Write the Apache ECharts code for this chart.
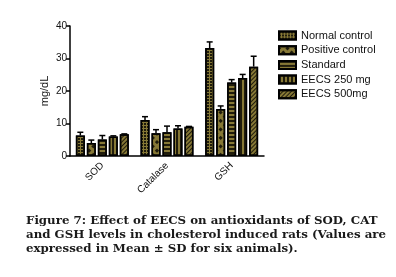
<!DOCTYPE html>
<html><head><meta charset="utf-8">
<script src="https://cdn.jsdelivr.net/npm/echarts@6/dist/echarts.min.js"></script>
<style>html,body{margin:0;padding:0;background:#fff}#c{width:396px;height:277px}</style>
</head><body><div id="c"></div>
<script>
var categories = ['SOD', 'Catalase', 'GSH'];
var seriesNames = ['Normal control', 'Positive control', 'Standard', 'EECS 250 mg', 'EECS 500mg'];
var normalMean = [6.3, 11.1, 33.2];
var normalSd = [1.0, 1.0, 1.9];
var positiveMean = [4.0, 7.0, 14.5];
var positiveSd = [0.9, 1.1, 0.9];
var standardMean = [5.1, 7.3, 22.6];
var standardSd = [1.2, 1.9, 0.9];
var eecs250Mean = [6.0, 8.5, 24.0];
var eecs250Sd = [0.2, 0.8, 1.1];
var eecs500Mean = [6.7, 9.0, 27.5];
var eecs500Sd = [0.1, 0.1, 3.2];
var yTicks = [0, 10, 20, 30, 40];
var captionLines = [
  'Figure 7: Effect of EECS on antioxidants of SOD, CAT',
  'and GSH levels in cholesterol induced rats (Values are',
  'expressed in Mean \u00b1 SD for six animals).'
];

var means = [normalMean, positiveMean, standardMean, eecs250Mean, eecs500Mean];
var sds = [normalSd, positiveSd, standardSd, eecs250Sd, eecs500Sd];

var BAR_W = 9, BAR_PITCH = 11;
var FILL = '#867836', PAT = '#1f1b0b';
var decals = [
  {symbol: 'rect', color: PAT, dashArrayX: [[2, 1]], dashArrayY: [2, 1], symbolSize: 1, rotation: 0},
  {symbol: 'rect', color: PAT, dashArrayX: [[3, 3]], dashArrayY: [3, 3], symbolSize: 1, rotation: Math.PI / 4},
  {symbol: 'rect', color: PAT, dashArrayX: [[1, 0]], dashArrayY: [1.5, 2], symbolSize: 1, rotation: 0},
  {symbol: 'rect', color: PAT, dashArrayX: [[1.5, 2]], dashArrayY: [1, 0], symbolSize: 1, rotation: 0},
  {symbol: 'rect', color: PAT, dashArrayX: [[1, 0]], dashArrayY: [1, 1.5], symbolSize: 1, rotation: -Math.PI / 4}
];

var series = [];
seriesNames.forEach(function (n, k) {
  series.push({
    name: n, type: 'bar', data: means[k], barWidth: BAR_W, barGap: '22%',
    itemStyle: {color: FILL, borderColor: '#000', borderWidth: 1.5, decal: decals[k]},
    z: 2
  });
});
seriesNames.forEach(function (n, k) {
  series.push({
    type: 'custom', z: 3, silent: true,
    data: means[k].map(function (m, i) { return [i, m, sds[k][i]]; }),
    renderItem: function (params, api) {
      var c = api.value(0), m = api.value(1), s = api.value(2);
      var p0 = api.coord([c, m]), p1 = api.coord([c, m + s]);
      var x = p0[0] + (k - 2) * BAR_PITCH;
      var st = {stroke: '#000', lineWidth: 1.5};
      return {type: 'group', children: [
        {type: 'line', shape: {x1: x, y1: p0[1], x2: x, y2: p1[1]}, style: st},
        {type: 'line', shape: {x1: x - 3, y1: p1[1], x2: x + 3, y2: p1[1]}, style: st}
      ]};
    }
  });
});

var chart = echarts.init(document.getElementById('c'));
chart.setOption({
  animation: false,
  backgroundColor: '#fff',
  aria: {enabled: true, decal: {show: true}},
  grid: {left: 70, right: 132, top: 26, bottom: 121},
  legend: {
    data: seriesNames, orient: 'vertical', left: 273, top: 25,
    itemWidth: 17, itemHeight: 8, itemGap: 3.7, icon: 'rect',
    textStyle: {fontFamily: 'Liberation Sans, Arial', fontSize: 11, color: '#111', lineHeight: 11}
  },
  xAxis: {
    type: 'category', data: categories,
    axisLine: {lineStyle: {color: '#000', width: 1.5}},
    axisTick: {alignWithLabel: true, length: 4, lineStyle: {color: '#000', width: 1.5}},
    axisLabel: {rotate: 45, margin: 8, fontFamily: 'Liberation Sans, Arial', fontSize: 10, color: '#111'}
  },
  yAxis: {
    type: 'value', min: yTicks[0], max: yTicks[yTicks.length - 1], interval: 10,
    name: 'mg/dL', nameLocation: 'middle', nameGap: 20,
    nameTextStyle: {fontFamily: 'Liberation Sans, Arial', fontSize: 11, color: '#111'},
    splitLine: {show: false},
    axisLine: {show: true, lineStyle: {color: '#000', width: 1.5}},
    axisTick: {show: true, length: 4, lineStyle: {color: '#000', width: 1.5}},
    axisLabel: {margin: 3, fontFamily: 'Liberation Sans, Arial', fontSize: 10, color: '#111'}
  },
  graphic: captionLines.map(function (t, i) {
    return {type: 'text', left: 26, top: 215 + i * 14,
      style: {text: t, fontFamily: 'DejaVu Serif', fontWeight: 'bold', fontSize: 11.8, fill: '#1a1a1a'}};
  }),
  series: series
});
</script></body></html>
